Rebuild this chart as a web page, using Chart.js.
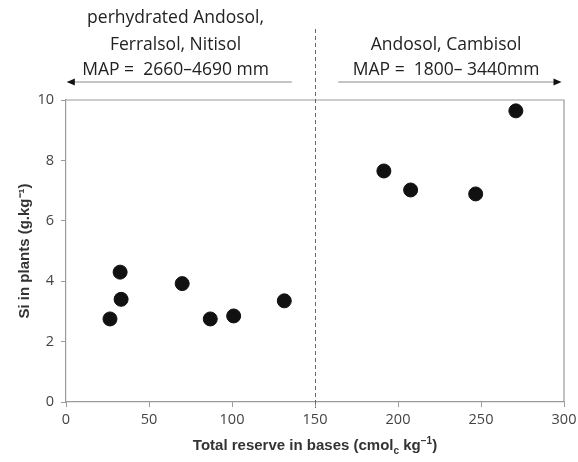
<!DOCTYPE html>
<html>
<head>
<meta charset="utf-8">
<script src="https://cdn.jsdelivr.net/npm/chart.js@4"></script>
<style>
  html, body { margin: 0; padding: 0; background: #fff; }
  #wrap { width: 578px; height: 462px; }
</style>
</head>
<body>
<div id="wrap"><canvas id="c" width="578" height="462"></canvas></div>
<script>
// ─── DATA ───
const reserveBases = [26.5, 32.6, 33.2, 70, 86.9, 101, 131.5, 191.5, 207.6, 246.8, 271];
const siPlants     = [2.75, 4.3, 3.4, 3.92, 2.75, 2.85, 3.35, 7.65, 7.02, 6.89, 9.64];
const xTicks = [0, 50, 100, 150, 200, 250, 300];
const yTicks = [0, 2, 4, 6, 8, 10];
const divider = 150;
const leftGroup  = ['perhydrated Andosol,', 'Ferralsol, Nitisol', 'MAP =  2660\u20134690 mm'];
const rightGroup = ['Andosol, Cambisol', 'MAP =  1800\u2013 3440mm'];

const points = reserveBases.map((x, i) => ({ x: x, y: siPlants[i] }));

// ─── FRAME + ANNOTATIONS ───
const annotations = {
    id: 'annotations',
    afterDraw(chart) {
        const ctx = chart.ctx;
        const xs = chart.scales.x;
        const a = chart.chartArea;
        ctx.save();

        // top + right frame
        ctx.strokeStyle = '#9a9a9a';
        ctx.lineWidth = 1.2;
        ctx.beginPath();
        ctx.moveTo(a.left, a.top); ctx.lineTo(a.right, a.top); ctx.lineTo(a.right, a.bottom);
        ctx.stroke();

        // dashed divider
        const dx = Math.round(xs.getPixelForValue(divider)) + 0.5;
        ctx.strokeStyle = '#666';
        ctx.lineWidth = 1;
        ctx.setLineDash([4, 3]);
        ctx.beginPath();
        ctx.moveTo(dx, 29); ctx.lineTo(dx, a.bottom + 6);
        ctx.stroke();
        ctx.setLineDash([]);

        // arrows
        const ay = 82;
        ctx.strokeStyle = '#8a8a8a';
        ctx.lineWidth = 1.2;
        ctx.beginPath();
        ctx.moveTo(xs.getPixelForValue(1), ay); ctx.lineTo(xs.getPixelForValue(136), ay);
        ctx.moveTo(xs.getPixelForValue(164), ay); ctx.lineTo(xs.getPixelForValue(297), ay);
        ctx.stroke();
        ctx.fillStyle = '#111';
        const lh = xs.getPixelForValue(0.5), rh = xs.getPixelForValue(298.5);
        ctx.beginPath();
        ctx.moveTo(lh, ay); ctx.lineTo(lh + 8, ay - 3.5); ctx.lineTo(lh + 8, ay + 3.5); ctx.closePath();
        ctx.moveTo(rh, ay); ctx.lineTo(rh - 8, ay - 3.5); ctx.lineTo(rh - 8, ay + 3.5); ctx.closePath();
        ctx.fill();

        // group labels
        ctx.fillStyle = '#222';
        ctx.font = '17.5px "Open Sans", sans-serif';
        ctx.textAlign = 'center';
        ctx.textBaseline = 'middle';
        const lx = xs.getPixelForValue(66);
        [18, 45, 70].forEach((y, i) => ctx.fillText(leftGroup[i], lx, y));
        const rx = xs.getPixelForValue(229);
        [45, 70].forEach((y, i) => ctx.fillText(rightGroup[i], rx, y));

        // x axis title with subscript c
        const big = 'bold 15px "Liberation Sans", Arial, sans-serif';
        const small = 'bold 10px "Liberation Sans", Arial, sans-serif';
        const parts = [['Total reserve in bases (cmol', big, 0], ['c', small, 5], [' kg', big, 0], ['\u22121', small, -5], [')', big, 0]];
        ctx.fillStyle = '#333';
        ctx.textAlign = 'left';
        let total = 0;
        parts.forEach(p => { ctx.font = p[1]; p.push(ctx.measureText(p[0]).width); total += p[3]; });
        let tx = (a.left + a.right) / 2 - total / 2;
        parts.forEach(p => { ctx.font = p[1]; ctx.fillText(p[0], tx, 446 + p[2]); tx += p[3]; });

        // y axis title
        ctx.font = big;
        ctx.translate(25, (a.top + a.bottom) / 2);
        ctx.rotate(-Math.PI / 2);
        ctx.textAlign = 'center';
        ctx.fillText('Si in plants (g.kg\u207B\u00B9)', 0, 0);
        ctx.restore();
    }
};

// ─── CHART ───
const tickFont = { size: 14.5, family: '"Open Sans", sans-serif' };
new Chart(document.getElementById('c'), {
    type: 'scatter',
    data: {
        datasets: [{
            data: points,
            backgroundColor: '#111',
            borderColor: '#111',
            pointRadius: 7,
            pointHoverRadius: 7
        }]
    },
    options: {
        responsive: false,
        animation: false,
        layout: { padding: { top: 100, right: 14, left: 0, bottom: 0 } },
        plugins: { legend: { display: false }, tooltip: { enabled: false } },
        scales: {
            x: {
                type: 'linear',
                min: 0, max: 300,
                afterFit: s => { s.height = 60; s.paddingLeft = 0; s.paddingRight = 0; },
                afterBuildTicks: s => { s.ticks = xTicks.map(v => ({ value: v })); },
                border: { color: '#9a9a9a', width: 1.2 },
                grid: { drawOnChartArea: false, drawTicks: true, tickLength: 5, color: '#9a9a9a' },
                ticks: { color: '#444', font: tickFont, padding: 4, maxRotation: 0 }
            },
            y: {
                min: 0, max: 10,
                afterFit: s => { s.width = 66; s.paddingTop = 0; s.paddingBottom = 0; },
                afterBuildTicks: s => { s.ticks = yTicks.map(v => ({ value: v })); },
                border: { color: '#9a9a9a', width: 1.2 },
                grid: { drawOnChartArea: false, drawTicks: true, tickLength: 5, color: '#9a9a9a' },
                ticks: { color: '#444', font: tickFont, padding: 7 }
            }
        }
    },
    plugins: [annotations]
});
</script>
</body>
</html>
